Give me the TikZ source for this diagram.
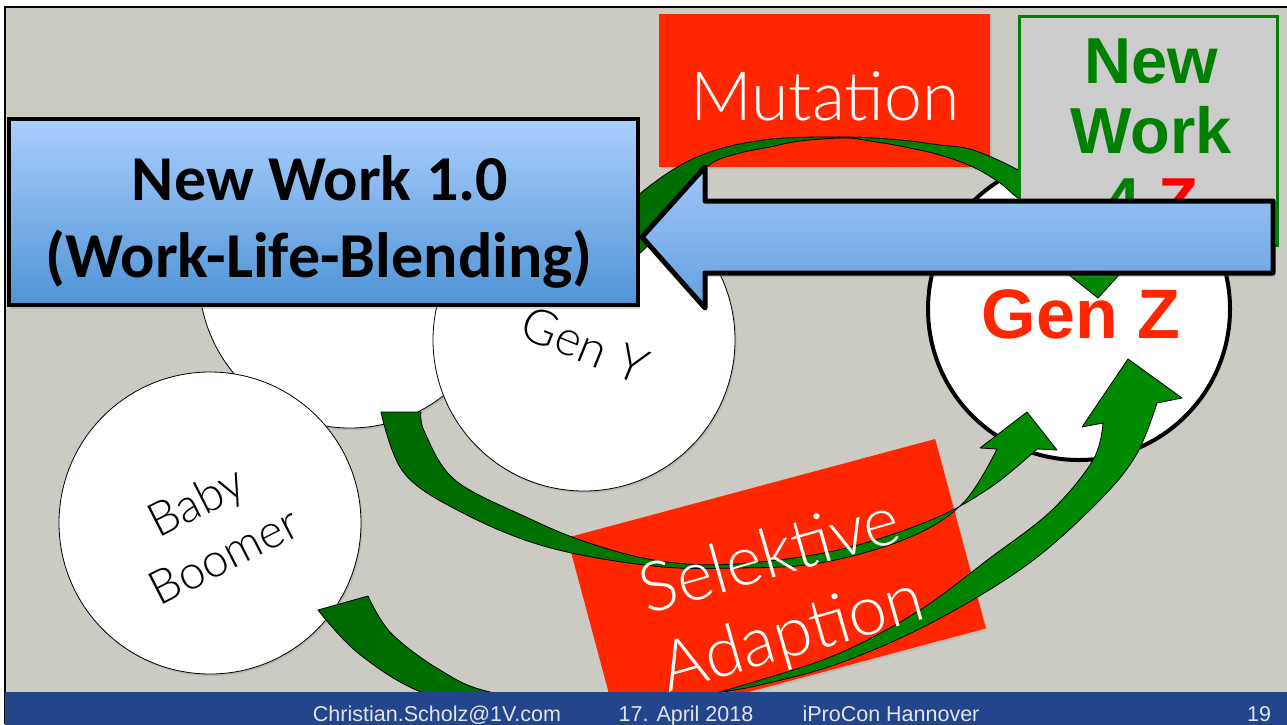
\documentclass[tikz,border=0pt]{standalone}
\usepackage{fontspec}
\setmainfont{Liberation Sans}
\newfontfamily\calibri{Carlito}
\IfFontExistsTF{Lato Light}{\newfontfamily\lightfont{Lato Light}}{\newfontfamily\lightfont{Liberation Sans}}
\usetikzlibrary{shadows}

\definecolor{slidegray}{RGB}{203,203,196}
\definecolor{footerblue}{RGB}{34,69,139}
\definecolor{footertext}{RGB}{228,228,228}
\definecolor{keyred}{RGB}{255,38,0}
\definecolor{newgreen}{RGB}{0,128,0}
\definecolor{boxgray}{RGB}{204,204,204}
\definecolor{bluetop}{RGB}{170,206,252}
\definecolor{bluebot}{RGB}{80,148,214}
\definecolor{arrowtop}{RGB}{160,198,248}
\definecolor{arrowbot}{RGB}{100,160,224}
\definecolor{gdark}{RGB}{0,106,0}
\definecolor{glight}{RGB}{0,140,0}

\begin{document}
\begin{tikzpicture}[x=1pt,y=-1pt,
  gen/.style={circle, draw=black, line width=0.8pt, fill=white, minimum size=302pt,
    inner sep=0pt, drop shadow={opacity=0.25, shadow xshift=1.5pt, shadow yshift=-2pt}},
  redbox/.style={fill=keyred, inner sep=0pt, drop shadow={opacity=0.2, shadow xshift=1.5pt, shadow yshift=-2pt}},
  greenarrow/.style={draw=black, line width=0.8pt, line join=round, left color=gdark, right color=glight},
  nwtext/.style={anchor=base, font=\bfseries\fontsize{65}{65}\selectfont},
  foot/.style={anchor=base, text=footertext, font=\fontsize{21.5}{21.5}\selectfont},
  bluetitle/.style={anchor=base, font=\calibri\bfseries\fontsize{64}{64}\selectfont}]

\useasboundingbox (0,0) rectangle (1287,724);
% slide background and frame
\fill[white] (0,0) rectangle (1287,724);
\fill[slidegray] (5,7) rectangle (1287,692);
\draw[line width=2pt] (5,724) -- (5,7) -- (1287,7);

% generation circles
\node[gen] (genx) at (350,277) {};
\node[gen] (geny) at (584,340) {};
\node[gen] (boomer) at (210,523) {};
\node[gen, line width=4pt] (genz) at (1079,309) {};

% red label boxes
\node[redbox, minimum width=331pt, minimum height=153pt] (mutbox) at (824.5,90.5) {};
\node[redbox, rotate=15, minimum width=381pt, minimum height=196pt] (selbox) at (776.5,583) {};

% selection arrow from Gen X
\path[greenarrow] (381,412) -- (421,412)
  -- plot[smooth, tension=0.6] coordinates {(421,412) (425,433) (455,480) (526,517) (589,543) (660,561) (736,564) (838,550) (931,520) (991,487) (1037,449)}
  -- (1057,450) -- (1027,412) -- (980,448) -- (997,449)
  -- plot[smooth, tension=0.6] coordinates {(997,449) (963,503) (908,538) (820,563) (736,568) (653,566) (547,547) (463,513) (404,473) (381,412)}
  -- cycle;

% selection arrow from the baby boomers
\path[greenarrow] (318,610) -- (368,596)
  -- plot[smooth, tension=0.6] coordinates {(368,596) (391,633) (440,670) (490,692) (590,706) (690,698) (760,680) (840,653) (920,610) (990,558) (1051,511) (1093,460) (1103,423)}
  -- (1082,427) -- (1128,359) -- (1182,398) -- (1157,403)
  -- plot[smooth, tension=0.6] coordinates {(1157,403) (1135,457) (1093,507) (1024,567) (931,623) (840,663) (760,685) (700,696) (600,716) (505,712) (421,692) (358,653) (318,610)}
  -- cycle;

% mutation arrow into Gen Z
\path[greenarrow] plot[smooth, tension=0.6] coordinates {(600,236) (642,192) (697,157) (763,140) (843,137) (900,140) (940,145) (973,150) (1018,170) (1060,198) (1095,228) (1112,252)}
  -- (1140,252) -- (1098,298) -- (1040,252) -- (1075,252)
  -- plot[smooth, tension=0.6] coordinates {(1075,252) (1058,224) (1040,208) (1018,198) (1000,183) (973,167) (940,155) (900,146) (870,141) (845,138) (800,141) (770,147) (740,153) (712,163) (690,185) (668,225) (630,262)}
  -- cycle;

% labels
\node[anchor=base, text=white, font=\lightfont\fontsize{68}{68}\selectfont] (muttext) at (825,120) {Mutation};
\node[rotate=16, align=center, text=white, font=\lightfont\fontsize{69}{81}\selectfont] (seltext) at (782,598) {Selektive\\Adaption};
\node[rotate=-22, font=\lightfont\fontsize{49}{49}\selectfont] (genytext) at (585,345) {Gen Y};
\node[rotate=27, align=center, font=\lightfont\fontsize{47}{61}\selectfont] (boomertext) at (210,528) {Baby\\Boomer};
\node[anchor=base, text=keyred, font=\bfseries\fontsize{70}{70}\selectfont] (genztext) at (1081,338) {Gen Z};

% New Work 4 Z box
\node[fill=boxgray, draw=newgreen, line width=3pt, minimum width=258pt, minimum height=229pt, inner sep=0pt] (nwzbox) at (1148.5,130.5) {};
\node[nwtext, text=newgreen] (nwa) at (1151,83) {New};
\node[nwtext, text=newgreen] (nwb) at (1151,153) {Work};
\node[nwtext] (nwc) at (1151,223) {\textcolor{newgreen}{4} \textcolor{red}{Z}};

% New Work 1.0 box
\node[draw=black, line width=4pt, top color=bluetop, bottom color=bluebot, minimum width=629pt, minimum height=186pt, inner sep=0pt,
  drop shadow={opacity=0.3, shadow xshift=2pt, shadow yshift=-4pt}] (nw1box) at (323.5,212) {};
\node[bluetitle] (nw1a) at (320,200) {New Work 1.0};
\node[bluetitle] (nw1b) at (319,277) {(Work-Life-Blending)};

% block arrow pointing back to New Work 1.0
\path[draw=black, line width=5pt, line join=round, top color=arrowtop, bottom color=arrowbot,
  drop shadow={opacity=0.3, shadow xshift=2pt, shadow yshift=-4pt}]
  (642,237) -- (705,167) -- (705,201) -- (1273,201) -- (1273,273) -- (705,273) -- (705,308) -- cycle;

% footer
\fill[footerblue] (5,692) rectangle (1290,730);
\node[foot] (fmail) at (437,721) {Christian.Scholz@1V.com};
\node[foot] (fdate) at (686,721) {17. April 2018};
\node[foot] (fconf) at (891,721) {iProCon Hannover};
\node[foot] (fpage) at (1259,721) {19};
\end{tikzpicture}
\end{document}
